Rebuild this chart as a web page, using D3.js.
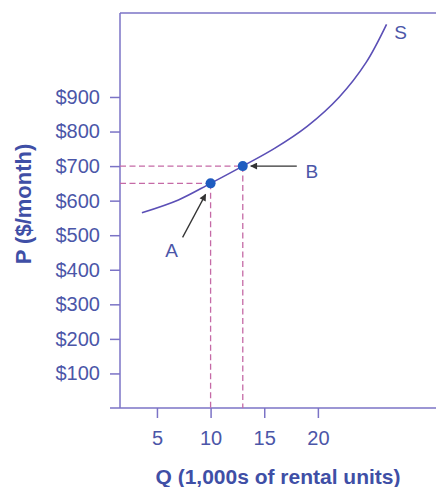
<!DOCTYPE html>
<html>
<head>
<meta charset="utf-8">
<style>
body { margin: 0; background: #ffffff; }
svg { display: block; font-family: "Liberation Sans", Arial, sans-serif; }
.axis path, .axis line { stroke: #7b73c6; stroke-width: 1.5px; fill: none; }
.axis text { fill: #4b56a8; font-size: 20px; }
</style>
</head>
<body>
<script src="https://cdn.jsdelivr.net/npm/d3@7"></script>
<script>
'use strict';
// supply curve S
const supplyQ = [3.6, 7, 10, 13, 16, 19, 22, 24.5, 26.4];
const supplyP = [565, 602, 650, 700, 752, 815, 900, 1000, 1110];
// the two marked points
const pointNames = ['A', 'B'];
const pointQ = [10, 13];
const pointP = [650, 700];
const xTicks = [5, 10, 15, 20];
const yTicks = [100, 200, 300, 400, 500, 600, 700, 800, 900];

const W = 436, H = 487;
const plotLeft = 120, plotBottom = 408, plotTop = 13;

const x = d3.scaleLinear().domain([0, 31]).range([103.3, 435.9]);
const y = d3.scaleLinear().domain([0, 1143]).range([plotBottom, plotTop]);

const svg = d3.select('body').append('svg')
	.attr('width', W)
	.attr('height', H);

svg.append('defs').append('marker')
	.attr('id', 'head')
	.attr('viewBox', '0 0 10 10')
	.attr('refX', 9).attr('refY', 5)
	.attr('markerWidth', 9).attr('markerHeight', 7)
	.attr('markerUnits', 'userSpaceOnUse')
	.attr('orient', 'auto')
  .append('path')
	.attr('d', 'M0,0 L10,5 L0,10 Z')
	.attr('fill', '#333333');

// frame top
svg.append('line')
	.attr('x1', plotLeft).attr('x2', W)
	.attr('y1', plotTop).attr('y2', plotTop)
	.attr('stroke', '#7b73c6').attr('stroke-width', 1.5);

// y axis
const ya = svg.append('g')
	.attr('class', 'axis')
	.attr('transform', 'translate(' + plotLeft + ',0)')
	.call(d3.axisLeft(y).tickValues(yTicks).tickSize(10).tickSizeOuter(0).tickPadding(10)
		.tickFormat(d => '$' + d));
ya.select('.domain').attr('d', 'M0,' + plotTop + 'V' + plotBottom);

// x axis
const xa = svg.append('g')
	.attr('class', 'axis')
	.attr('transform', 'translate(0,' + plotBottom + ')')
	.call(d3.axisBottom(x).tickValues(xTicks).tickSize(10).tickSizeOuter(0).tickPadding(13));
xa.select('.domain').attr('d', 'M110,0H' + W);

// dashed guide lines
const pts = pointQ.map((q, i) => ({ name: pointNames[i], q: q, p: pointP[i] }));
pts.forEach(d => {
	svg.append('line')
		.attr('x1', plotLeft).attr('x2', x(d.q))
		.attr('y1', y(d.p)).attr('y2', y(d.p))
		.attr('stroke', '#c56aa6').attr('stroke-width', 1.3)
		.attr('stroke-dasharray', '6,3.5');
	svg.append('line')
		.attr('x1', x(d.q)).attr('x2', x(d.q))
		.attr('y1', y(d.p)).attr('y2', plotBottom)
		.attr('stroke', '#c56aa6').attr('stroke-width', 1.3)
		.attr('stroke-dasharray', '6,3.5');
});

// supply curve
const line = d3.line()
	.x(d => x(d[0]))
	.y(d => y(d[1]))
	.curve(d3.curveCatmullRom);
svg.append('path')
	.datum(supplyQ.map((q, i) => [q, supplyP[i]]))
	.attr('d', line)
	.attr('fill', 'none')
	.attr('stroke', '#5b4fb6')
	.attr('stroke-width', 1.6);

svg.selectAll('circle.pt')
	.data(pts)
	.enter().append('circle')
	.attr('class', 'pt')
	.attr('cx', d => x(d.q))
	.attr('cy', d => y(d.p))
	.attr('r', 5)
	.attr('fill', '#1f5cc0');

// arrows and labels
const a = pts[0], b = pts[1];
svg.append('line')
	.attr('x1', x(a.q) - 28).attr('y1', y(a.p) + 54)
	.attr('x2', x(a.q) - 5).attr('y2', y(a.p) + 11)
	.attr('stroke', '#333333').attr('stroke-width', 1.3)
	.attr('marker-end', 'url(#head)');
svg.append('line')
	.attr('x1', x(b.q) + 54).attr('y1', y(b.p))
	.attr('x2', x(b.q) + 8).attr('y2', y(b.p))
	.attr('stroke', '#333333').attr('stroke-width', 1.3)
	.attr('marker-end', 'url(#head)');

const lab = { fill: '#4b56a8', size: '19px' };
svg.append('text').attr('x', x(a.q) - 39).attr('y', y(a.p) + 74)
	.attr('text-anchor', 'middle').attr('fill', lab.fill).attr('font-size', lab.size).text(a.name);
svg.append('text').attr('x', x(b.q) + 69).attr('y', y(b.p) + 12)
	.attr('text-anchor', 'middle').attr('fill', lab.fill).attr('font-size', lab.size).text(b.name);
const last = supplyQ.length - 1;
svg.append('text').attr('x', x(supplyQ[last]) + 14).attr('y', y(supplyP[last]) + 15)
	.attr('text-anchor', 'middle').attr('fill', lab.fill).attr('font-size', lab.size).text('S');

// axis titles
svg.append('text')
	.attr('x', 278).attr('y', 484)
	.attr('text-anchor', 'middle')
	.attr('fill', '#3f4fa6').attr('font-size', '21px').attr('font-weight', 'bold')
	.text('Q (1,000s of rental units)');
svg.append('text')
	.attr('transform', 'translate(31,204) rotate(-90)')
	.attr('text-anchor', 'middle')
	.attr('fill', '#3f4fa6').attr('font-size', '22px').attr('font-weight', 'bold')
	.text('P ($/month)');
</script>
</body>
</html>
